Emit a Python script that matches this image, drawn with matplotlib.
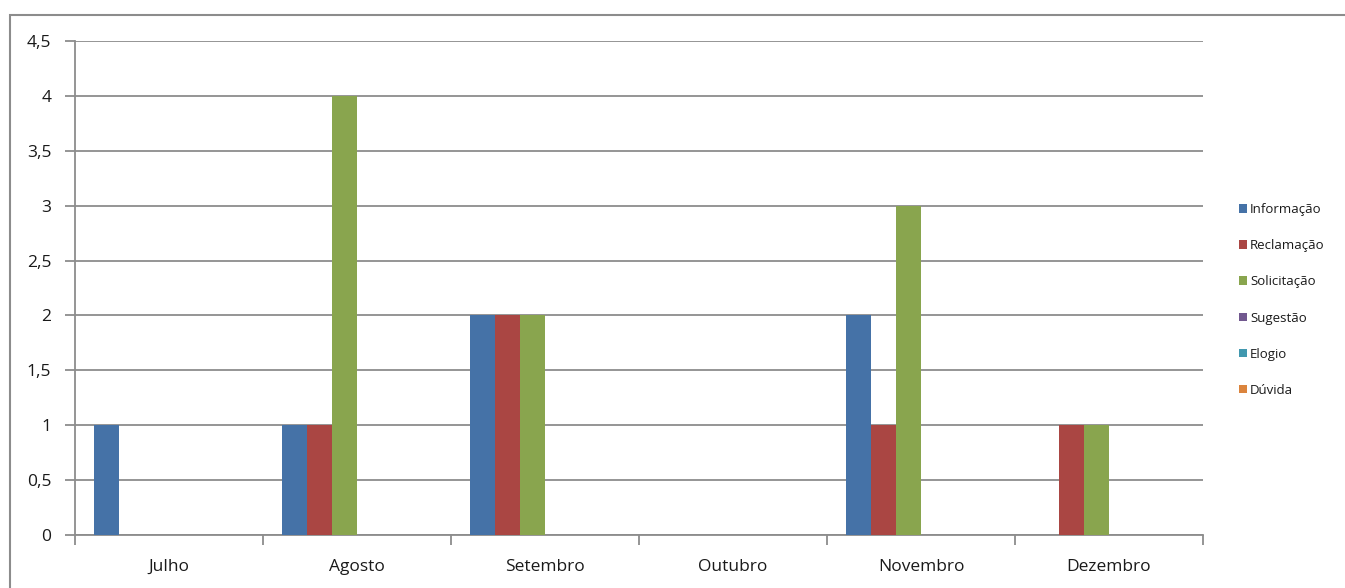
import numpy as np
import matplotlib.pyplot as plt
from matplotlib.patches import Rectangle

# dados
meses = ["Julho", "Agosto", "Setembro", "Outubro", "Novembro", "Dezembro"]
series = ["Informação", "Reclamação", "Solicitação", "Sugestão", "Elogio", "Dúvida"]
informacao = [1, 1, 2, 0, 2, 0]
reclamacao = [0, 1, 2, 0, 1, 1]
solicitacao = [0, 4, 2, 0, 3, 1]
sugestao = [0, 0, 0, 0, 0, 0]
elogio = [0, 0, 0, 0, 0, 0]
duvida = [0, 0, 0, 0, 0, 0]
valores = [informacao, reclamacao, solicitacao, sugestao, elogio, duvida]
cores = ["#4572A7", "#AA4643", "#89A54E", "#71588F", "#4198AF", "#DB843D"]

yticks = [0, 0.5, 1, 1.5, 2, 2.5, 3, 3.5, 4, 4.5]
ytick_labels = ["0", "0,5", "1", "1,5", "2", "2,5", "3", "3,5", "4", "4,5"]

plt.rcParams['font.family'] = ['Open Sans', 'DejaVu Sans']

W, H = 1345, 588
fig = plt.figure(figsize=(W / 100, H / 100), dpi=100)

# moldura externa do gráfico
fig.patches.append(Rectangle((10 / W, -0.1), 1.2, (H - 15) / H + 0.1,
                             transform=fig.transFigure, fill=False,
                             edgecolor="#8c8c8c", linewidth=1.5))

ax = fig.add_axes([75 / W, (H - 535) / H, (1203 - 75) / W, (535 - 41) / H])

n = len(series)
bw = 1 / (n + 1.5)
x = np.arange(len(meses))
for i, (vals, cor) in enumerate(zip(valores, cores)):
    pos = x - 0.5 + 0.75 * bw + bw * (i + 0.5)
    ax.bar(pos, vals, width=bw, color=cor, label=series[i], zorder=3)

ax.set_xlim(-0.5, len(meses) - 0.5)
ax.set_ylim(0, 4.5)
ax.set_yticks(yticks)
ax.set_yticklabels(ytick_labels, fontsize=12.5, color="#1a1a1a")
ax.yaxis.grid(True, color="#8c8c8c", linewidth=1.3, zorder=0)

ax.set_xticks(x)
ax.set_xticklabels(meses, fontsize=12.5, color="#1a1a1a")
ax.set_xticks(np.arange(-0.5, len(meses)), minor=True)
ax.tick_params(axis='x', which='major', length=0, pad=17)
ax.tick_params(axis='x', which='minor', length=7, width=1.3, color="#8c8c8c")
ax.tick_params(axis='y', length=7, width=1.3, color="#8c8c8c", pad=10)

for s in ["top", "right"]:
    ax.spines[s].set_visible(False)
for s in ["left", "bottom"]:
    ax.spines[s].set_color("#8c8c8c")
    ax.spines[s].set_linewidth(1.3)

leg = fig.legend(loc="center left", bbox_to_anchor=(1227 / W, (H - 300) / H),
                 frameon=False, fontsize=9.5, handlelength=0.65, handleheight=0.65,
                 handletextpad=0.2, labelspacing=1.75)
for t in leg.get_texts():
    t.set_color("#1a1a1a")

fig.savefig("out.png", dpi=100)
